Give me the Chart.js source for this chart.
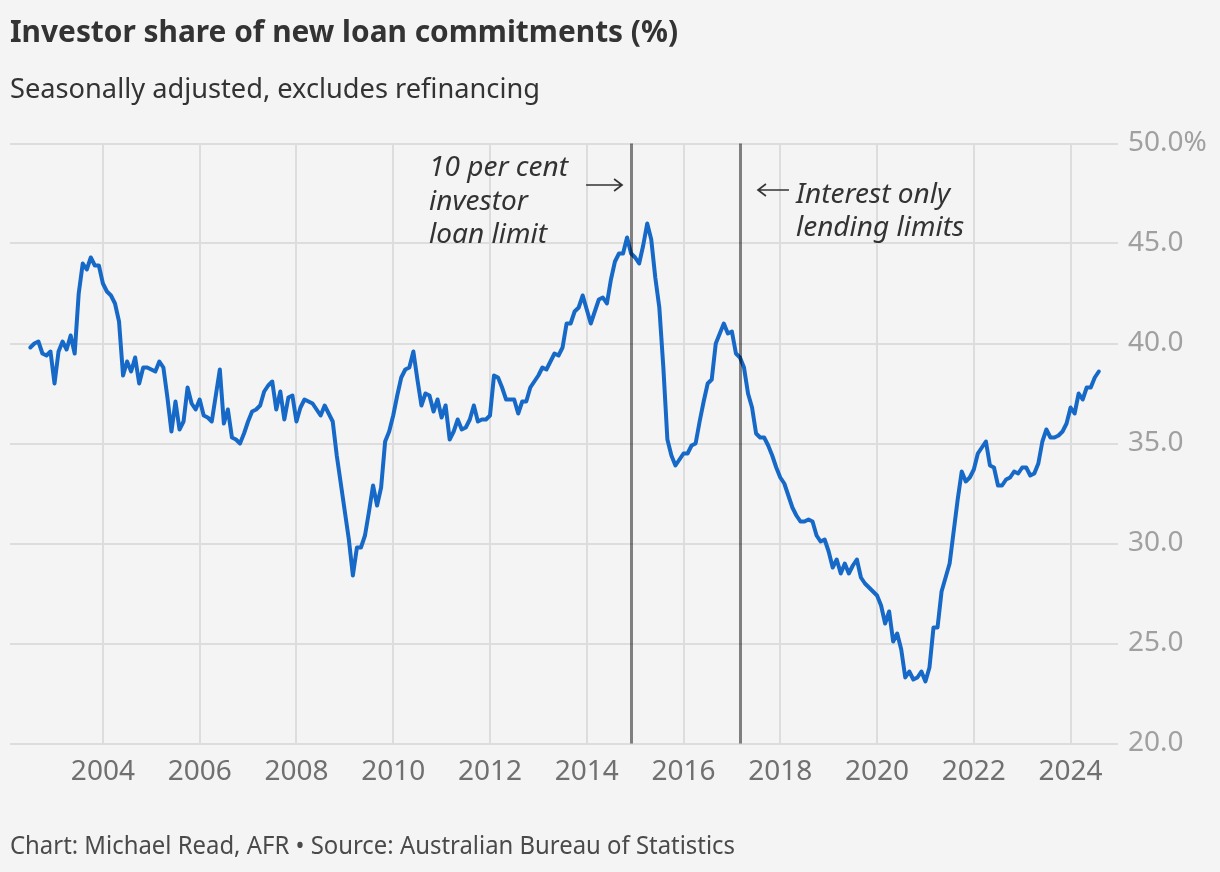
<!DOCTYPE html>
<html>
<head>
<meta charset="utf-8">
<title>Investor share of new loan commitments</title>
<script src="https://cdn.jsdelivr.net/npm/chart.js@4.4.1/dist/chart.umd.min.js"></script>
<style>
  html, body { margin: 0; padding: 0; background: #f4f4f4; }
  #wrap { position: relative; width: 1220px; height: 872px; }
</style>
</head>
<body>
<div id="wrap"><canvas id="chart" width="1220" height="872"></canvas></div>
<script>
'use strict';

/* Data: monthly investor share (%), July 2002 to August 2024 */
const firstYear = 2002;
const firstMonth = 7;
const investorShare = [
  39.8, 40.0, 40.1, 39.5, 39.4, 39.6,                               // 2002 (Jul-Dec)
  38.0, 39.6, 40.1, 39.7, 40.4, 39.5, 42.5, 44.0, 43.7, 44.3, 43.9, 43.9, // 2003
  43.0, 42.6, 42.4, 42.0, 41.1, 38.4, 39.1, 38.6, 39.3, 38.0, 38.8, 38.8, // 2004
  38.7, 38.6, 39.1, 38.8, 37.3, 35.6, 37.1, 35.7, 36.1, 37.8, 37.0, 36.7, // 2005
  37.2, 36.4, 36.3, 36.1, 37.4, 38.7, 36.0, 36.7, 35.3, 35.2, 35.0, 35.5, // 2006
  36.1, 36.6, 36.7, 36.9, 37.6, 37.9, 38.1, 36.7, 37.6, 36.2, 37.3, 37.4, // 2007
  36.1, 36.8, 37.2, 37.1, 37.0, 36.7, 36.4, 36.9, 36.5, 36.1, 34.4, 33.0, // 2008
  31.6, 30.2, 28.4, 29.8, 29.8, 30.4, 31.6, 32.9, 31.9, 32.8, 35.1, 35.6, // 2009
  36.4, 37.4, 38.3, 38.7, 38.8, 39.6, 38.2, 36.9, 37.5, 37.4, 36.6, 37.2, // 2010
  36.3, 36.9, 35.2, 35.6, 36.2, 35.7, 35.8, 36.2, 36.9, 36.1, 36.2, 36.2, // 2011
  36.4, 38.4, 38.3, 37.8, 37.2, 37.2, 37.2, 36.5, 37.1, 37.1, 37.8, 38.1, // 2012
  38.4, 38.8, 38.7, 39.1, 39.5, 39.4, 39.8, 41.0, 41.0, 41.6, 41.8, 42.4, // 2013
  41.7, 41.0, 41.6, 42.2, 42.3, 42.0, 43.2, 44.1, 44.5, 44.5, 45.3, 44.5, // 2014
  44.3, 44.0, 44.9, 46.0, 45.2, 43.3, 41.8, 38.8, 35.2, 34.4, 33.9, 34.2, // 2015
  34.5, 34.5, 34.9, 35.0, 36.1, 37.1, 38.0, 38.2, 40.0, 40.5, 41.0, 40.5, // 2016
  40.6, 39.5, 39.3, 38.8, 37.5, 36.8, 35.5, 35.3, 35.3, 34.9, 34.4, 33.8, // 2017
  33.3, 33.0, 32.4, 31.8, 31.4, 31.1, 31.1, 31.2, 31.1, 30.4, 30.1, 30.2, // 2018
  29.6, 28.8, 29.2, 28.5, 29.0, 28.5, 28.9, 29.2, 28.3, 28.0, 27.8, 27.6, // 2019
  27.4, 26.9, 26.0, 26.6, 25.1, 25.5, 24.7, 23.3, 23.6, 23.2, 23.3, 23.6, // 2020
  23.1, 23.8, 25.8, 25.8, 27.6, 28.3, 29.0, 30.6, 32.2, 33.6, 33.1, 33.3, // 2021
  33.7, 34.5, 34.8, 35.1, 33.9, 33.8, 32.9, 32.9, 33.2, 33.3, 33.6, 33.5, // 2022
  33.8, 33.8, 33.4, 33.5, 34.0, 35.1, 35.7, 35.3, 35.3, 35.4, 35.6, 36.0, // 2023
  36.8, 36.5, 37.5, 37.2, 37.8, 37.8, 38.3, 38.6                          // 2024 (Jan-Aug)
];
const yearTicks = [2004, 2006, 2008, 2010, 2012, 2014, 2016, 2018, 2020, 2022, 2024];
const shareTicks = [20, 25, 30, 35, 40, 45, 50];
// APRA policy changes: [year, month]
const policyChanges = [[2014, 12], [2017, 3]];

const titleText = 'Investor share of new loan commitments (%)';
const subtitleText = 'Seasonally adjusted, excludes refinancing';
const footerText = 'Chart: Michael Read, AFR \u2022 Source: Australian Bureau of Statistics';

const toYear = (year, month) => year + (month - 1) / 12;
const points = investorShare.map((v, i) => ({ x: toYear(firstYear, firstMonth + i), y: v }));

const FONT = '"Noto Sans", "DejaVu Sans", sans-serif';
const ink = '#333333';

function arrow(c, x1, x2, y) {
  const dir = x2 > x1 ? 1 : -1;
  c.beginPath();
  c.moveTo(x1, y);
  c.lineTo(x2, y);
  c.moveTo(x2 - dir * 8, y - 6);
  c.lineTo(x2, y);
  c.lineTo(x2 - dir * 8, y + 6);
  c.stroke();
}

const policyLines = {
  id: 'policyLines',
  afterDatasetsDraw(chart) {
    const c = chart.ctx;
    const area = chart.chartArea;
    const xs = chart.scales.x;
    c.save();
    c.strokeStyle = 'rgba(0, 0, 0, 0.48)';
    c.lineWidth = 3;
    policyChanges.forEach(([y, m]) => {
      const px = Math.round(xs.getPixelForValue(toYear(y, m))) + 0.5;
      c.beginPath();
      c.moveTo(px, area.top);
      c.lineTo(px, area.bottom);
      c.stroke();
    });
    c.restore();
  }
};

const chartText = {
  id: 'chartText',
  afterDraw(chart) {
    const c = chart.ctx;
    const xs = chart.scales.x;
    c.save();
    c.textAlign = 'left';
    c.textBaseline = 'alphabetic';

    c.fillStyle = ink;
    c.font = 'bold 31px ' + FONT;
    c.fillText(titleText, 10, 42, 668);
    c.font = '28px ' + FONT;
    c.fillText(subtitleText, 10, 98, 530);

    c.fillStyle = '#4a4a4a';
    c.font = '24.5px ' + FONT;
    c.fillText(footerText, 10, 854, 725);

    // annotations next to the two policy lines
    const p1 = xs.getPixelForValue(toYear(...policyChanges[0]));
    const p2 = xs.getPixelForValue(toYear(...policyChanges[1]));
    c.fillStyle = ink;
    c.font = 'italic 28px ' + FONT;
    c.fillText('10 per cent', p1 - 202, 176, 142);
    c.fillText('investor', p1 - 202, 210, 103);
    c.fillText('loan limit', p1 - 202, 243, 122);
    c.fillText('Interest only', p2 + 56, 203, 161);
    c.fillText('lending limits', p2 + 56, 236, 176);

    c.strokeStyle = ink;
    c.lineWidth = 1.6;
    arrow(c, p1 - 45, p1 - 9, 185);
    arrow(c, p2 + 49, p2 + 18, 190);
    c.restore();
  }
};

const ctx = document.querySelector('#chart');
const myChart = new Chart(ctx, {
  type: 'line',
  data: {
    datasets: [
      {
        data: points,
        borderColor: '#1769c8',
        borderWidth: 4,
        pointRadius: 0,
        tension: 0,
        borderJoinStyle: 'round',
        borderCapStyle: 'round',
      },
    ],
  },
  options: {
    responsive: false,
    animation: false,
    layout: { padding: { left: 10, top: 143.5, right: 0, bottom: 62 } },
    plugins: {
      legend: { display: false },
      tooltip: { enabled: false },
    },
    scales: {
      x: {
        type: 'linear',
        min: 2002.08,
        max: 2024.98,
        afterBuildTicks: (scale) => { scale.ticks = yearTicks.map((v) => ({ value: v })); },
        afterFit: (scale) => { scale.height = 66.5; },
        grid: { color: '#dddddd', lineWidth: 2, drawTicks: false },
        border: { display: false },
        ticks: {
          padding: 12,
          color: '#707070',
          maxRotation: 0,
          autoSkip: false,
          font: { family: FONT, size: 28 },
          callback: (v) => String(v),
        },
      },
      y: {
        position: 'right',
        min: 20,
        max: 50,
        afterBuildTicks: (scale) => { scale.ticks = shareTicks.map((v) => ({ value: v })); },
        afterFit: (scale) => { scale.width = 102; },
        grid: { color: '#dddddd', lineWidth: 2, drawTicks: false },
        border: { display: false },
        ticks: {
          padding: 10,
          color: '#a0a0a0',
          font: { family: FONT, size: 28 },
          callback: (v) => (v === 50 ? v.toFixed(1) + '%' : v.toFixed(1)),
        },
      },
    },
  },
  plugins: [policyLines, chartText],
});
</script>
</body>
</html>
